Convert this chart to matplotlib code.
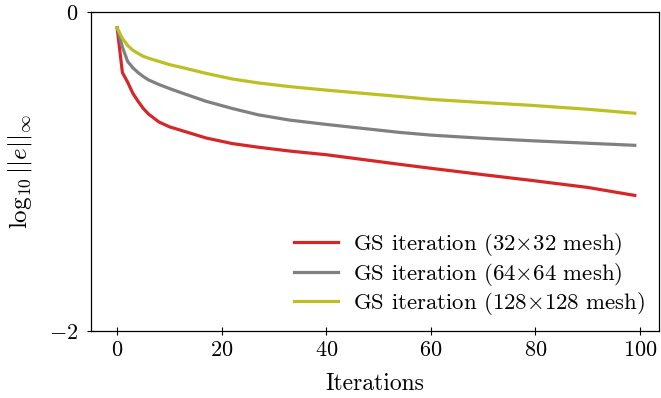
import matplotlib
matplotlib.use("Agg")
import matplotlib.pyplot as plt

plt.rcParams['font.family'] = ['cmr10', 'DejaVu Serif']
plt.rcParams['mathtext.fontset'] = 'cm'
plt.rcParams['axes.formatter.use_mathtext'] = True
plt.rcParams['axes.unicode_minus'] = True

iterations = [0, 1, 2, 3, 4, 5, 6, 8, 10, 13, 17, 22, 27, 33, 40, 47, 54, 60, 70, 79, 90, 99]
err_32 = [-0.10, -0.38, -0.44, -0.51, -0.56, -0.605, -0.64, -0.69, -0.72, -0.75, -0.79, -0.825,
          -0.848, -0.872, -0.895, -0.925, -0.955, -0.98, -1.02, -1.055, -1.10, -1.15]
err_64 = [-0.10, -0.22, -0.31, -0.35, -0.38, -0.405, -0.426, -0.455, -0.48, -0.515, -0.56, -0.605,
          -0.645, -0.678, -0.705, -0.73, -0.755, -0.772, -0.792, -0.807, -0.823, -0.836]
err_128 = [-0.10, -0.165, -0.21, -0.24, -0.26, -0.278, -0.29, -0.31, -0.33, -0.353, -0.385, -0.42,
           -0.445, -0.468, -0.49, -0.51, -0.53, -0.548, -0.568, -0.585, -0.61, -0.635]
labels = [r'GS iteration (32$\times$32 mesh)',
          r'GS iteration (64$\times$64 mesh)',
          r'GS iteration (128$\times$128 mesh)']
colors = ['#d62728', '#808080', '#bdbf22']

fig = plt.figure(figsize=(6.61, 3.98), dpi=100)
ax = fig.add_axes([0.1377, 0.1683, 0.859, 0.8017])

for ys, lab, c in zip([err_32, err_64, err_128], labels, colors):
    ax.plot(iterations, ys, color=c, lw=2.3, label=lab)

ax.set_xlim(-5, 103.6)
ax.set_ylim(-2, 0)
ax.set_xticks([0, 20, 40, 60, 80, 100])
ax.set_yticks([-2, 0])
ax.set_yticklabels([r'$-2$', r'$0$'])
ax.tick_params(direction='inout', length=6, width=0.8, labelsize=16, top=False, right=False)
ax.tick_params(axis='x', pad=4)
ax.tick_params(axis='y', pad=6)
for s in ax.spines.values():
    s.set_linewidth(0.9)

ax.set_xlabel('Iterations', fontsize=17, labelpad=9)
ax.set_ylabel(r'$\log_{10}||e||_\infty$', fontsize=18, labelpad=11)

leg = ax.legend(loc='lower right', frameon=False, fontsize=16.4, handlelength=1.95,
                handletextpad=0.65, labelspacing=0.12, borderaxespad=0.2,
                bbox_to_anchor=(1.0, 0.0))

fig.savefig('out.png', dpi=100)
